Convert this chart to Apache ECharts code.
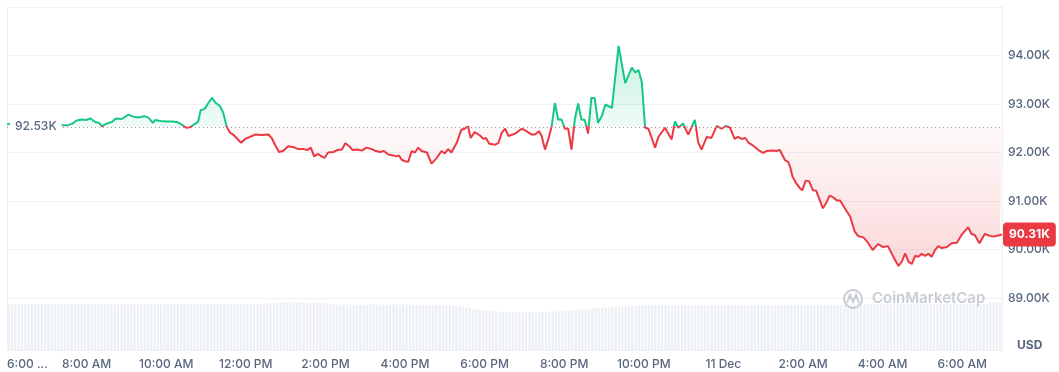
<!DOCTYPE html>
<html><head><meta charset="utf-8">
<script src="https://cdn.jsdelivr.net/npm/echarts@6/dist/echarts.min.js"></script>
<style>html,body{margin:0;padding:0;background:#fff}#c{width:1059px;height:372px}</style>
</head><body><div id="c"></div>
<script>
// minutes after 6:00 AM (Dec 10)
const minutes = [0,12,23,35,47,59,68,75,81,90,
98,105,113,119,126,133,139,143,149,158,
164,173,176,183,190,198,207,213,220,223,
231,241,248,256,263,270,276,282,288,292,
298,303,309,314,321,326,331,336,341,346,
353,359,366,374,384,394,399,404,410,416,
424,432,439,447,453,458,463,469,474,479,
484,492,498,505,510,516,521,527,535,542,
550,556,562,568,575,582,587,591,595,600,
605,610,615,620,625,633,640,648,655,660,
665,670,678,685,690,695,699,705,713,718,
722,727,736,741,746,751,756,766,776,783,
791,796,802,806,811,816,821,826,831,836,
841,846,851,856,861,866,871,876,881,886,
891,897,902,912,922,932,942,947,952,957,
962,967,977,982,992,1002,1007,1012,1019,1027,
1037,1042,1047,1055,1062,1070,1077,1084,1090,1097,
1102,1108,1113,1118,1125,1133,1140,1145,1153,1160,
1165,1173,1178,1181,1184,1189,1195,1199,1204,1209,
1215,1220,1225,1230,1235,1240,1246,1251,1256,1263,
1271,1278,1283,1291,1298,1305,1313,1321,1328,1334,
1339,1344,1349,1354,1359,1364,1369,1374,1379,1384,
1389,1394,1399,1404,1409,1417,1424,1432,1439,1449,
1454,1459,1466,1474,1482,1489,1497,1500];

const prices = [92580,92620,92660,92640,92680,92640,92600,92600,92560,92560,
92590,92660,92680,92670,92700,92630,92610,92540,92590,92630,
92700,92690,92720,92780,92740,92720,92750,92720,92610,92670,
92650,92640,92640,92630,92580,92510,92520,92580,92630,92870,
92900,93010,93130,93030,92960,92820,92540,92410,92370,92300,
92200,92280,92320,92370,92360,92370,92300,92160,92010,92030,
92130,92110,92070,92070,92050,92100,91920,91970,91920,91890,
92000,92010,92050,92060,92190,92130,92050,92060,92040,92100,
92070,92030,92010,92030,91960,91940,91920,91940,91850,91820,
91810,92030,92000,92100,92030,92000,91770,91890,92030,91980,
92070,92000,92200,92470,92490,92540,92300,92420,92350,92280,
92300,92180,92160,92200,92410,92490,92340,92390,92490,92440,
92370,92370,92440,92340,92060,92270,92530,93020,92680,92680,
92490,92490,92060,92680,93010,92680,92670,92390,93130,93120,
92610,92760,92990,92920,94200,93430,93750,93650,93700,93450,
92510,92490,92100,92320,92510,92270,92640,92510,92600,92370,
92670,92210,92060,92320,92300,92550,92490,92550,92510,92280,
92320,92280,92300,92200,92140,92050,91990,92030,92040,92030,
92050,91840,91800,91680,91510,91380,91270,91220,91420,91410,
91220,91210,91030,90850,90960,91110,91070,91010,91010,90850,
90680,90370,90280,90250,90140,89990,90110,90050,90070,89910,
89780,89660,89750,89920,89750,89700,89870,89850,89910,89870,
89910,89850,89990,90070,90030,90050,90130,90140,90300,90460,
90320,90300,90130,90320,90280,90270,90300,90310];

const openPrice = 92530;

// relative 5-minute volume bars
const volStartMinute = 2.5;
const volStepMinutes = 5;
const volumes = [88,89,88,89,88,88,89,88,89,89,
88,88,89,88,89,88,88,89,89,88,
89,88,88,89,88,89,89,88,88,89,
88,89,88,88,89,89,88,89,88,88,
89,88,89,88,88,89,88,89,89,88,
88,89,88,89,88,88,89,89,88,89,
88,88,89,88,89,89,88,88,89,88,
89,88,89,89,88,89,88,88,89,90,
90,90,91,
91,91,92,91,91,92,91,91,91,92,91,90,90,89,88,
88,87,88,87,87,88,87,87,88,87,
87,88,87,87,88,87,87,87,88,87,
87,88,87,87,87,88,87,86,87,86,
86,87,86,86,85,86,
85,84,84,83,82,81,80,79,78,77,76,76,75,74,74,73,
73,73,72,73,73,72,73,73,73,72,73,73,74,73,74,74,75,75,
76,76,77,77,78,78,79,79,80,80,81,81,82,82,83,83,84,84,84,85,85,85,86,86,
86,86,87,86,86,86,87,86,86,87,
86,86,86,87,86,86,87,86,86,86,
87,86,86,87,86,86,86,87,86,86,
87,86,86,86,87,86,87,86,86,86,
87,86,86,87,86,86,86,87,86,87,
86,86,86,87,86,87,86,86,87,86,
87,87,87,
87,88,88,87,88,88,88,87,88,88,
88,87,88,88,88,88,87,88,88,88,
87,88,88,88,88,87,88,88,87,88,
88,88,88,87,88,88,88,87,88,88,
88,
92,92,92,92];

const xTickLabels = ['6:00 ...','8:00 AM','10:00 AM','12:00 PM','2:00 PM','4:00 PM','6:00 PM','8:00 PM','10:00 PM','11 Dec','2:00 AM','4:00 AM','6:00 AM'];
const currency = 'USD';
const brand = 'CoinMarketCap';

const GREEN = '#16c784', RED = '#ea3943', GRIDC = '#eef0f3', TXT = '#58667e';
const pricePairs = minutes.map((m, i) => [m, prices[i]]);
const volPairs = volumes.map((v, i) => [volStartMinute + i * volStepMinutes, v]);
const pMax = Math.max(openPrice, ...prices), pMin = Math.min(openPrice, ...prices);
const baseOff = (pMax - openPrice) / (pMax - pMin);
const last = prices[prices.length - 1];
const fmtK = v => (v / 1000).toFixed(2) + 'K';

const chart = echarts.init(document.getElementById('c'));
chart.setOption({
  animation: false,
  textStyle: { fontFamily: 'Inter, sans-serif' },
  grid: [
    { left: 7, right: 57, top: 7, height: 291 },
    { left: 7, right: 57, top: 298, bottom: 22 },
    { left: 7, right: 57, top: 7, bottom: 22 }
  ],
  xAxis: [
    { gridIndex: 0, type: 'value', min: 0, max: 1500, show: false },
    { gridIndex: 1, type: 'value', min: 0, max: 1500, interval: 120,
      axisLine: { show: false }, axisTick: { show: false }, splitLine: { show: false },
      axisLabel: { color: TXT, fontSize: 12, fontWeight: 500, margin: 8, showMaxLabel: false, alignMinLabel: 'left',
        formatter: v => (v % 120 === 0 && xTickLabels[v / 120] !== undefined) ? xTickLabels[v / 120] : '' } },
    { gridIndex: 2, type: 'value', min: 0, max: 1, position: 'top',
      axisLine: { show: true, lineStyle: { color: GRIDC } }, axisTick: { show: false },
      axisLabel: { show: false }, splitLine: { show: false } }
  ],
  yAxis: [
    { gridIndex: 0, type: 'value', position: 'right', min: 89000, max: 95000, interval: 1000,
      axisLine: { show: false }, axisTick: { show: false },
      splitLine: { lineStyle: { color: GRIDC } },
      axisLabel: { color: TXT, fontSize: 12, fontWeight: 500, margin: 6, formatter: v => v >= 95000 ? '' : fmtK(v) } },
    { gridIndex: 1, type: 'value', min: 0, max: 100, show: false },
    { gridIndex: 2, type: 'value', min: 0, max: 1, position: 'left',
      axisLine: { show: true, lineStyle: { color: GRIDC } }, axisTick: { show: false },
      axisLabel: { show: false }, splitLine: { show: false } },
    { gridIndex: 2, type: 'value', min: 0, max: 1, position: 'right',
      axisLine: { show: true, lineStyle: { color: GRIDC } }, axisTick: { show: false },
      axisLabel: { show: false }, splitLine: { show: false } }
  ],
  series: [
    {
      type: 'bar', xAxisIndex: 1, yAxisIndex: 1, data: volPairs, barWidth: 2.3,
      itemStyle: { color: '#edf0f4' }, silent: true
    },
    {
      type: 'line', xAxisIndex: 0, yAxisIndex: 0, data: pricePairs, symbol: 'none', z: 3,
      lineStyle: { width: 2,
        color: { type: 'linear', x: 0, y: 0, x2: 0, y2: 1, colorStops: [
          { offset: 0, color: GREEN }, { offset: baseOff, color: GREEN },
          { offset: baseOff, color: RED }, { offset: 1, color: RED }
        ] } },
      areaStyle: {
        origin: openPrice,
        color: { type: 'linear', x: 0, y: 0, x2: 0, y2: 1, colorStops: [
          { offset: 0, color: 'rgba(22,199,132,0.36)' },
          { offset: baseOff, color: 'rgba(22,199,132,0.09)' },
          { offset: baseOff, color: 'rgba(234,57,67,0.04)' },
          { offset: 1, color: 'rgba(234,57,67,0.28)' }
        ] }
      },
      markLine: {
        silent: true, symbol: 'none', animation: false,
        data: [
          { yAxis: openPrice, lineStyle: { color: '#8f97a6', type: [1, 3], width: 1 },
            label: { show: true, position: 'insideStart', formatter: fmtK(openPrice), color: TXT,
              fontSize: 12, fontWeight: 500, backgroundColor: '#fff', padding: [3, 5], distance: 3 } },
          { yAxis: last, lineStyle: { color: 'rgba(0,0,0,0)', width: 1 },
            label: { show: true, position: 'end', formatter: fmtK(last), color: '#fff', fontWeight: 'bold',
              fontSize: 12, backgroundColor: RED, padding: [6, 6], borderRadius: 4, distance: 1 } }
        ]
      }
    }
  ],
  graphic: [
    { type: 'text', left: 1017, top: 339, z: 10,
      style: { text: currency, fill: TXT, font: 'bold 12px Inter, sans-serif' } },
    { type: 'circle', shape: { cx: 853, cy: 299, r: 9 }, z: 10,
      style: { fill: 'none', stroke: '#c8cdd5', lineWidth: 2 } },
    { type: 'polyline', shape: { points: [[847, 303], [850, 295], [853, 302], [856, 295], [859, 303]] }, z: 10,
      style: { fill: 'none', stroke: '#c8cdd5', lineWidth: 2 } },
    { type: 'text', left: 872, top: 291, z: 10,
      style: { text: brand, fill: '#c8cdd5', font: '600 15px Inter, sans-serif' } }
  ]
});
</script>
</body></html>
